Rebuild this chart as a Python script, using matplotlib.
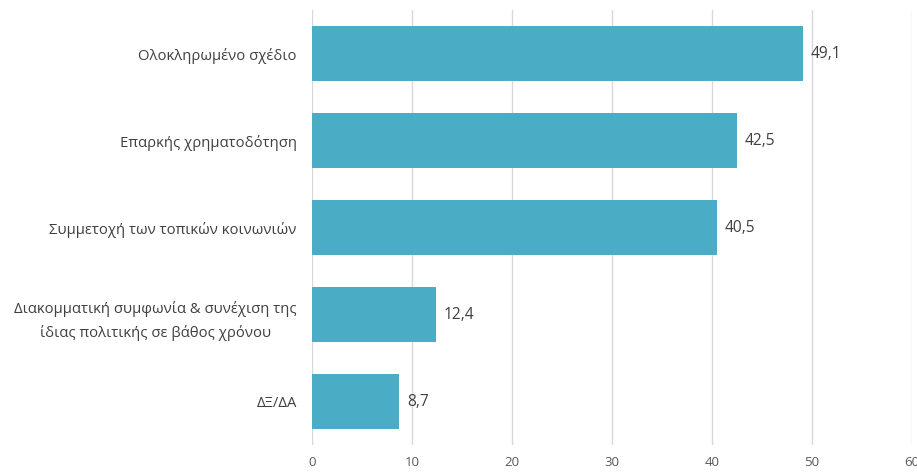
import matplotlib.pyplot as plt
import numpy as np

plt.rcParams['font.family'] = ['Open Sans', 'DejaVu Sans']

# Daten
categories = ['Ολοκληρωμένο σχέδιο',
              'Επαρκής χρηματοδότηση',
              'Συμμετοχή των τοπικών κοινωνιών',
              'Διακομματική συμφωνία & συνέχιση της\nίδιας πολιτικής σε βάθος χρόνου',
              'ΔΞ/ΔΑ']
values = [49.1, 42.5, 40.5, 12.4, 8.7]
value_labels = ['49,1', '42,5', '40,5', '12,4', '8,7']
xticks = [0, 10, 20, 30, 40, 50, 60]

fig = plt.figure(figsize=(9.17, 4.72), dpi=100)
ax = fig.add_axes([0.3402, 0.0572, 0.6543, 0.9216])

y = np.arange(len(categories))
ax.barh(y, values, height=0.63, color='#4BACC6', zorder=3)

# Werte neben den Balken
for yi, v, lab in zip(y, values, value_labels):
    ax.text(v + 0.8, yi, lab, va='center', ha='left', fontsize=11.2, color='#404040')

ax.set_yticks(y)
ax.set_yticklabels(categories, fontsize=10.7, color='#404040', linespacing=1.7)
for t in ax.get_yticklabels():
    t.set_multialignment('center')
ax.tick_params(axis='y', length=0, pad=11)
ax.set_ylim(len(categories) - 0.5, -0.5)

ax.set_xlim(0, 60)
ax.set_xticks(xticks)
ax.set_xticklabels([str(t) for t in xticks], fontsize=9.5, color='#595959')
ax.tick_params(axis='x', length=0, pad=8)
ax.grid(True, axis='x', color='#D9D9D9', linewidth=1, zorder=0)

for s in ax.spines.values():
    s.set_visible(False)

plt.savefig('out.png', dpi=100)
plt.close()
